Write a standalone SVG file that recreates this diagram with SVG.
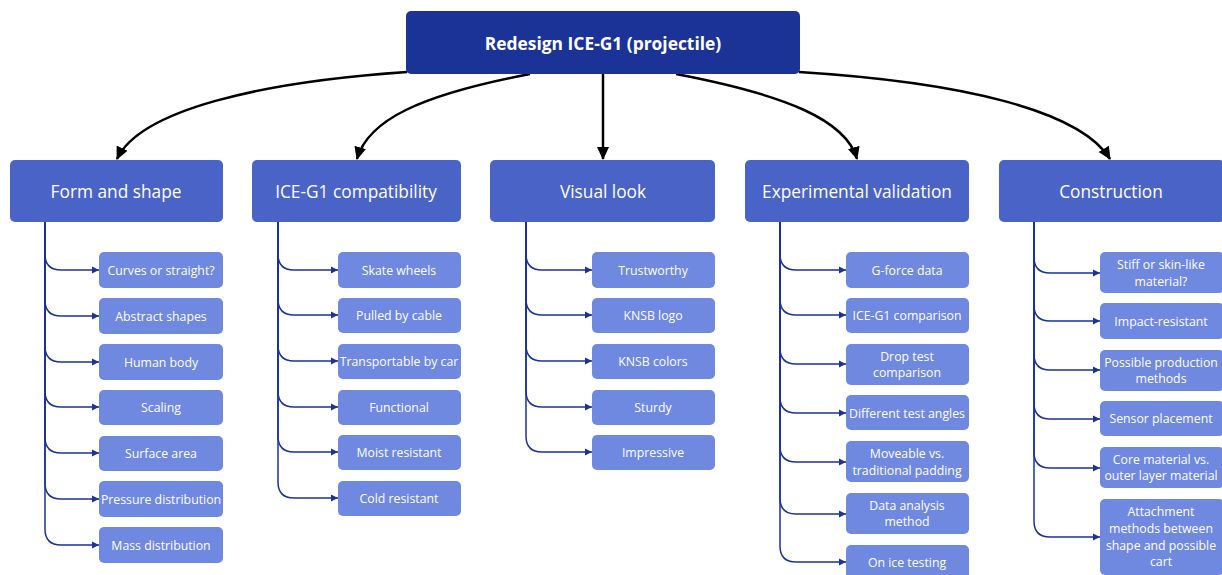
<svg xmlns="http://www.w3.org/2000/svg" width="1222" height="575" viewBox="0 0 1222 575">
<style>
.root{fill:#1b3396}
.cat{fill:#4a63c6}
.sub{fill:#6f88e0}
text{font-family:"Open Sans","Noto Sans","Liberation Sans",sans-serif;fill:#fff;text-anchor:middle;dominant-baseline:central}
.rt{font-size:17.4px;font-weight:bold}
.ct{font-size:17.3px}
.st{font-size:12.3px}
.big{fill:none;stroke:#000;stroke-width:2.5}
.br{fill:none;stroke:#1b3396;stroke-width:1.5}
</style>
<defs>
<marker id="ab" markerUnits="userSpaceOnUse" markerWidth="14" markerHeight="14" refX="12" refY="7" orient="auto">
<path d="M0,1 L13,7 L0,13 z" fill="#000"/>
</marker>
<marker id="as" markerUnits="userSpaceOnUse" markerWidth="8" markerHeight="8" refX="7" refY="4" orient="auto">
<path d="M0,0.5 L7,4 L0,7.5 z" fill="#1b3396"/>
</marker>
</defs>
<g id="connectors">
<path class="big" d="M407 72 C260 82 140 110 117 159" marker-end="url(#ab)"/>
<path class="big" d="M530 74 C420 95 368 120 357 159" marker-end="url(#ab)"/>
<path class="big" d="M603 74 L603 159" marker-end="url(#ab)"/>
<path class="big" d="M676 74 C786 95 846 120 857 159" marker-end="url(#ab)"/>
<path class="big" d="M799 72 C960 82 1080 110 1110 159" marker-end="url(#ab)"/>
<path class="br" d="M45 222 V254 Q45 270 61 270 H99" marker-end="url(#as)"/>
<path class="br" d="M45 222 V300 Q45 316 61 316 H99" marker-end="url(#as)"/>
<path class="br" d="M45 222 V346 Q45 362 61 362 H99" marker-end="url(#as)"/>
<path class="br" d="M45 222 V391 Q45 407 61 407 H99" marker-end="url(#as)"/>
<path class="br" d="M45 222 V437 Q45 453 61 453 H99" marker-end="url(#as)"/>
<path class="br" d="M45 222 V483 Q45 499 61 499 H99" marker-end="url(#as)"/>
<path class="br" d="M45 222 V529 Q45 545 61 545 H99" marker-end="url(#as)"/>
<path class="br" d="M278 222 V254 Q278 270 294 270 H338" marker-end="url(#as)"/>
<path class="br" d="M278 222 V299 Q278 315 294 315 H338" marker-end="url(#as)"/>
<path class="br" d="M278 222 V345 Q278 361 294 361 H338" marker-end="url(#as)"/>
<path class="br" d="M278 222 V391 Q278 407 294 407 H338" marker-end="url(#as)"/>
<path class="br" d="M278 222 V436 Q278 452 294 452 H338" marker-end="url(#as)"/>
<path class="br" d="M278 222 V482 Q278 498 294 498 H338" marker-end="url(#as)"/>
<path class="br" d="M526 222 V254 Q526 270 542 270 H592" marker-end="url(#as)"/>
<path class="br" d="M526 222 V299 Q526 315 542 315 H592" marker-end="url(#as)"/>
<path class="br" d="M526 222 V345 Q526 361 542 361 H592" marker-end="url(#as)"/>
<path class="br" d="M526 222 V391 Q526 407 542 407 H592" marker-end="url(#as)"/>
<path class="br" d="M526 222 V436 Q526 452 542 452 H592" marker-end="url(#as)"/>
<path class="br" d="M780 222 V254 Q780 270 796 270 H846" marker-end="url(#as)"/>
<path class="br" d="M780 222 V299 Q780 315 796 315 H846" marker-end="url(#as)"/>
<path class="br" d="M780 222 V348 Q780 364 796 364 H846" marker-end="url(#as)"/>
<path class="br" d="M780 222 V397 Q780 413 796 413 H846" marker-end="url(#as)"/>
<path class="br" d="M780 222 V446 Q780 462 796 462 H846" marker-end="url(#as)"/>
<path class="br" d="M780 222 V498 Q780 514 796 514 H846" marker-end="url(#as)"/>
<path class="br" d="M780 222 V546 Q780 562 796 562 H846" marker-end="url(#as)"/>
<path class="br" d="M1034 222 V257 Q1034 273 1050 273 H1100" marker-end="url(#as)"/>
<path class="br" d="M1034 222 V305 Q1034 321 1050 321 H1100" marker-end="url(#as)"/>
<path class="br" d="M1034 222 V354 Q1034 370 1050 370 H1100" marker-end="url(#as)"/>
<path class="br" d="M1034 222 V403 Q1034 419 1050 419 H1100" marker-end="url(#as)"/>
<path class="br" d="M1034 222 V452 Q1034 468 1050 468 H1100" marker-end="url(#as)"/>
<path class="br" d="M1034 222 V521 Q1034 537 1050 537 H1100" marker-end="url(#as)"/>
</g>
<g id="root"><rect class="root" x="406" y="11" width="394" height="63" rx="5"/><text class="rt" x="603" y="43">Redesign ICE-G1 (projectile)</text></g>
<g id="cat-form"><rect class="cat" x="10" y="160" width="213" height="62" rx="5"/><text class="ct" x="116" y="191">Form and shape</text></g>
<g id="cat-ice"><rect class="cat" x="252" y="160" width="209" height="62" rx="5"/><text class="ct" x="356" y="191">ICE-G1 compatibility</text></g>
<g id="cat-visual"><rect class="cat" x="490" y="160" width="225" height="62" rx="5"/><text class="ct" x="603" y="191">Visual look</text></g>
<g id="cat-exp"><rect class="cat" x="745" y="160" width="224" height="62" rx="5"/><text class="ct" x="857" y="191">Experimental validation</text></g>
<g id="cat-con"><rect class="cat" x="999" y="160" width="226" height="62" rx="5"/><text class="ct" x="1111" y="191">Construction</text></g>

<g id="f1"><rect class="sub" x="99" y="252" width="124" height="36" rx="5"/><text class="st" x="161" y="270">Curves or straight?</text></g>
<g id="f2"><rect class="sub" x="99" y="298" width="124" height="36" rx="5"/><text class="st" x="161" y="316">Abstract shapes</text></g>
<g id="f3"><rect class="sub" x="99" y="344" width="124" height="36" rx="5"/><text class="st" x="161" y="362">Human body</text></g>
<g id="f4"><rect class="sub" x="99" y="390" width="124" height="35" rx="5"/><text class="st" x="161" y="407">Scaling</text></g>
<g id="f5"><rect class="sub" x="99" y="436" width="124" height="35" rx="5"/><text class="st" x="161" y="453">Surface area</text></g>
<g id="f6"><rect class="sub" x="99" y="481" width="124" height="36" rx="5"/><text class="st" x="161" y="499">Pressure distribution</text></g>
<g id="f7"><rect class="sub" x="99" y="527" width="124" height="36" rx="5"/><text class="st" x="161" y="545">Mass distribution</text></g>

<g id="i1"><rect class="sub" x="338" y="252" width="123" height="36" rx="5"/><text class="st" x="399" y="270">Skate wheels</text></g>
<g id="i2"><rect class="sub" x="338" y="298" width="123" height="35" rx="5"/><text class="st" x="399" y="315">Pulled by cable</text></g>
<g id="i3"><rect class="sub" x="338" y="344" width="123" height="35" rx="5"/><text class="st" x="399" y="361">Transportable by car</text></g>
<g id="i4"><rect class="sub" x="338" y="390" width="123" height="35" rx="5"/><text class="st" x="399" y="407">Functional</text></g>
<g id="i5"><rect class="sub" x="338" y="435" width="123" height="35" rx="5"/><text class="st" x="399" y="452">Moist resistant</text></g>
<g id="i6"><rect class="sub" x="338" y="481" width="123" height="35" rx="5"/><text class="st" x="399" y="498">Cold resistant</text></g>

<g id="v1"><rect class="sub" x="592" y="252" width="123" height="36" rx="5"/><text class="st" x="653" y="270">Trustworthy</text></g>
<g id="v2"><rect class="sub" x="592" y="298" width="123" height="35" rx="5"/><text class="st" x="653" y="315">KNSB logo</text></g>
<g id="v3"><rect class="sub" x="592" y="344" width="123" height="35" rx="5"/><text class="st" x="653" y="361">KNSB colors</text></g>
<g id="v4"><rect class="sub" x="592" y="390" width="123" height="35" rx="5"/><text class="st" x="653" y="407">Sturdy</text></g>
<g id="v5"><rect class="sub" x="592" y="435" width="123" height="35" rx="5"/><text class="st" x="653" y="452">Impressive</text></g>

<g id="e1"><rect class="sub" x="846" y="252" width="123" height="36" rx="5"/><text class="st" x="907" y="270">G-force data</text></g>
<g id="e2"><rect class="sub" x="846" y="298" width="123" height="35" rx="5"/><text class="st" x="907" y="315">ICE-G1 comparison</text></g>
<g id="e3"><rect class="sub" x="846" y="344" width="123" height="41" rx="5"/><text class="st" x="907" y="356">Drop test</text><text class="st" x="907" y="372">comparison</text></g>
<g id="e4"><rect class="sub" x="846" y="395" width="123" height="35" rx="5"/><text class="st" x="907" y="413">Different test angles</text></g>
<g id="e5"><rect class="sub" x="846" y="441" width="123" height="41" rx="5"/><text class="st" x="907" y="453">Moveable vs.</text><text class="st" x="907" y="470">traditional padding</text></g>
<g id="e6"><rect class="sub" x="846" y="493" width="123" height="41" rx="5"/><text class="st" x="907" y="505">Data analysis</text><text class="st" x="907" y="521">method</text></g>
<g id="e7"><rect class="sub" x="846" y="545" width="123" height="36" rx="5"/><text class="st" x="907" y="562">On ice testing</text></g>

<g id="c1"><rect class="sub" x="1100" y="252" width="124" height="41" rx="5"/><text class="st" x="1161" y="264">Stiff or skin-like</text><text class="st" x="1161" y="281">material?</text></g>
<g id="c2"><rect class="sub" x="1100" y="303" width="124" height="36" rx="5"/><text class="st" x="1161" y="321">Impact-resistant</text></g>
<g id="c3"><rect class="sub" x="1100" y="350" width="124" height="41" rx="5"/><text class="st" x="1161" y="362">Possible production</text><text class="st" x="1161" y="378">methods</text></g>
<g id="c4"><rect class="sub" x="1100" y="401" width="124" height="35" rx="5"/><text class="st" x="1161" y="418">Sensor placement</text></g>
<g id="c5"><rect class="sub" x="1100" y="447" width="124" height="41" rx="5"/><text class="st" x="1161" y="459">Core material vs.</text><text class="st" x="1161" y="475">outer layer material</text></g>
<g id="c6"><rect class="sub" x="1100" y="499" width="124" height="76" rx="5"/><text class="st" x="1161" y="511">Attachment</text><text class="st" x="1161" y="528">methods between</text><text class="st" x="1161" y="545">shape and possible</text><text class="st" x="1161" y="561">cart</text></g>
</svg>
